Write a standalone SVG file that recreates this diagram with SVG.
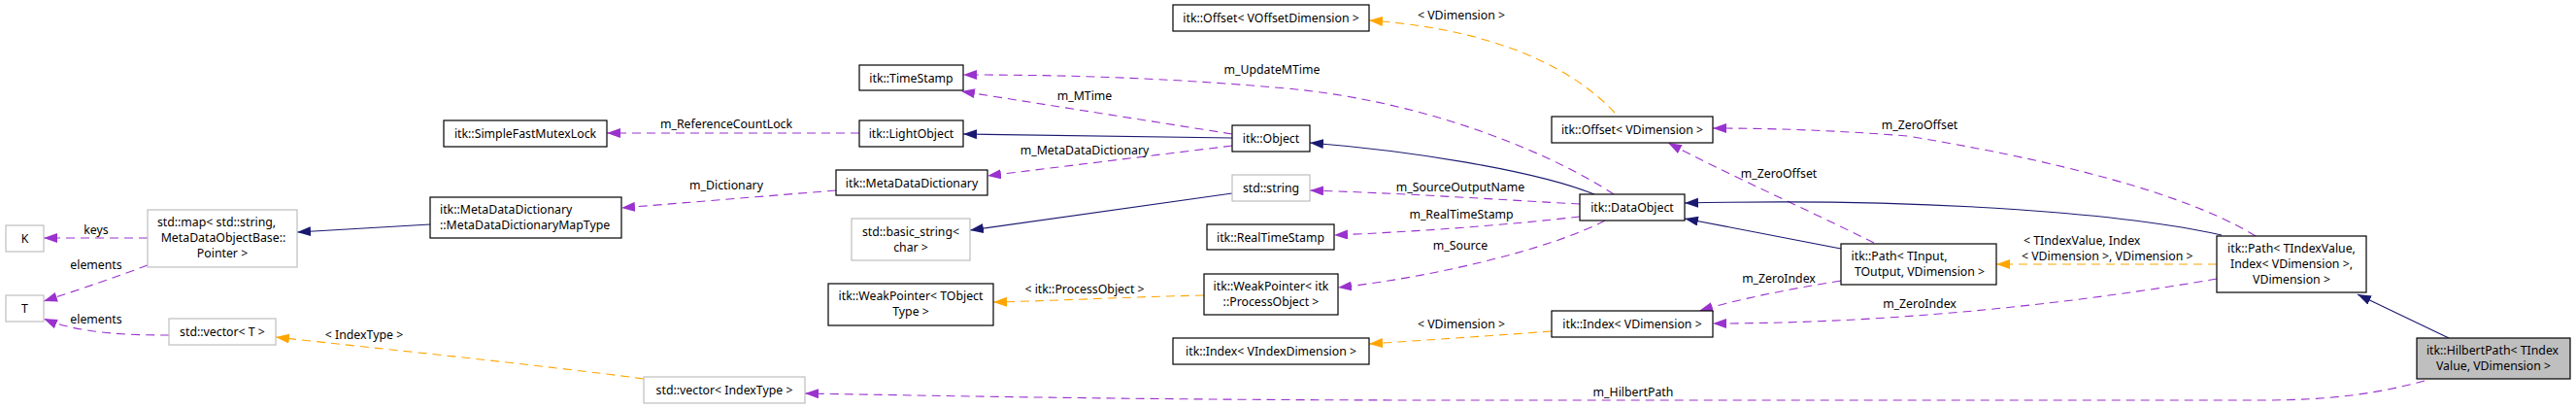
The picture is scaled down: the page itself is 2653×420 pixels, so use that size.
<svg xmlns="http://www.w3.org/2000/svg" width="2653" height="420" viewBox="0 0 2653 420">
<style>
text{font-family:"Noto Sans","Open Sans","DejaVu Sans",sans-serif;font-size:12.3px;fill:#000}
.m{text-anchor:middle}
.nb{fill:#fff;stroke:#000;stroke-width:1.2}
.ng{fill:#fff;stroke:#bfbfbf;stroke-width:1.2}
.nh{fill:#bfbfbf;stroke:#000;stroke-width:1.2}
.ep{fill:none;stroke:#9a32cd;stroke-width:1.1;stroke-dasharray:9,6}
.eo{fill:none;stroke:#ffa500;stroke-width:1.1;stroke-dasharray:9,6}
.en{fill:none;stroke:#191970;stroke-width:1.1}
.ep{marker-end:url(#ap)}.eo{marker-end:url(#ao)}.en{marker-end:url(#an)}
</style>
<defs>
<marker id="ap" viewBox="0 0 14 10" refX="14" refY="5" markerWidth="14" markerHeight="10" markerUnits="userSpaceOnUse" orient="auto"><path d="M0,0 L14,5 L0,10 z" fill="#9a32cd"/></marker>
<marker id="ao" viewBox="0 0 14 10" refX="14" refY="5" markerWidth="14" markerHeight="10" markerUnits="userSpaceOnUse" orient="auto"><path d="M0,0 L14,5 L0,10 z" fill="#ffa500"/></marker>
<marker id="an" viewBox="0 0 14 10" refX="14" refY="5" markerWidth="14" markerHeight="10" markerUnits="userSpaceOnUse" orient="auto"><path d="M0,0 L14,5 L0,10 z" fill="#191970"/></marker>
</defs>
<rect width="2653" height="420" fill="#fff"/>
<g id="connectors">
<path class="ep" d="M152,245 L45,245"/><text class="m" x="99" y="241">keys</text>
<path class="ep" d="M152,273 C120,285 85,297 45,310"/><text class="m" x="99" y="277">elements</text>
<path class="ep" d="M174,345 C130,345 80,343 45,328"/><text class="m" x="99" y="333">elements</text>
<path class="ep" d="M885,137 L625,137"/><text class="m" x="748" y="132">m_ReferenceCountLock</text>
<path class="ep" d="M861,196 L640,214"/><text class="m" x="748" y="195">m_Dictionary</text>
<path class="ep" d="M1269,138 L990,94"/><text class="m" x="1117" y="103">m_MTime</text>
<path class="ep" d="M1269,150 L1017,181"/><text class="m" x="1117" y="159">m_MetaDataDictionary</text>
<path class="ep" d="M1662,200 C1610,165 1480,105 1325,91 C1200,80 1100,77 992,77"/><text class="m" x="1310" y="76">m_UpdateMTime</text>
<path class="ep" d="M1627,210 C1550,206 1450,199 1349,196"/><text class="m" x="1504" y="197">m_SourceOutputName</text>
<path class="ep" d="M1627,223 C1550,232 1450,239 1374,242"/><text class="m" x="1505" y="225">m_RealTimeStamp</text>
<path class="ep" d="M1653,227 C1600,255 1480,285 1378,296"/><text class="m" x="1504" y="257">m_Source</text>
<path class="ep" d="M1930,250 C1860,215 1780,180 1718,147"/><text class="m" x="1832" y="183">m_ZeroOffset</text>
<path class="ep" d="M2323,243 C2270,210 2160,172 1964,140 C1890,134 1820,132 1764,132"/><text class="m" x="1977" y="133">m_ZeroOffset</text>
<path class="ep" d="M1896,289 C1840,298 1790,308 1750,320"/><text class="m" x="1832" y="291">m_ZeroIndex</text>
<path class="ep" d="M2283,287 C2150,310 1960,333 1764,333"/><text class="m" x="1977" y="317">m_ZeroIndex</text>
<path class="ep" d="M2497,392 C2450,405 2400,412 2330,412 L1500,412 C1200,412 1000,408 829,405"/><text class="m" x="1682" y="408">m_HilbertPath</text>
<path class="eo" d="M663,390 C550,375 400,360 284,347"/><text class="m" x="375" y="349">&lt; IndexType &gt;</text>
<path class="eo" d="M1240,304 C1150,306 1080,310 1023,311"/><text class="m" x="1117" y="302">&lt; itk::ProcessObject &gt;</text>
<path class="eo" d="M1598,341 C1530,346 1470,350 1410,354"/><text class="m" x="1505" y="338">&lt; VDimension &gt;</text>
<path class="eo" d="M1663,116 C1620,70 1540,30 1410,21"/><text class="m" x="1505" y="20">&lt; VDimension &gt;</text>
<path class="eo" d="M2283,272 L2056,272"/><text x="2084" y="252">&lt; TIndexValue, Index</text><text x="2082" y="268">&lt; VDimension &gt;, VDimension &gt;</text>
<path class="en" d="M443,231 L306,239"/>
<path class="en" d="M1269,142 L992,138"/>
<path class="en" d="M1269,199 L999,237"/>
<path class="en" d="M1642,200 C1580,175 1450,155 1349,147"/>
<path class="en" d="M1896,256 L1735,225"/>
<path class="en" d="M2288,242 C2200,222 2000,203 1735,209"/>
<path class="en" d="M2522,348 L2428,303"/>
</g>
<g id="n_K"><rect class="ng" x="6" y="232" width="39" height="27"/><text class="m" x="25.5" y="250">K</text></g>
<g id="n_T"><rect class="ng" x="6" y="304" width="39" height="27"/><text class="m" x="25.5" y="322">T</text></g>
<g id="n_stdmap"><rect class="ng" x="152" y="216" width="154" height="59"/><text class="m" x="223" y="233">std::map&lt; std::string,</text><text class="m" x="230" y="249">MetaDataObjectBase::</text><text class="m" x="229" y="265">Pointer &gt;</text></g>
<g id="n_mutex"><rect class="nb" x="457" y="124" width="168" height="27"/><text class="m" x="541" y="142">itk::SimpleFastMutexLock</text></g>
<g id="n_maptype"><rect class="nb" x="443" y="203" width="197" height="42"/><text x="453" y="220">itk::MetaDataDictionary</text><text x="453" y="236">::MetaDataDictionaryMapType</text></g>
<g id="n_vectorT"><rect class="ng" x="174" y="328" width="110" height="27"/><text class="m" x="229" y="346">std::vector&lt; T &gt;</text></g>
<g id="n_vectorIdx"><rect class="ng" x="663" y="388" width="166" height="27"/><text class="m" x="746" y="406">std::vector&lt; IndexType &gt;</text></g>
<g id="n_timestamp"><rect class="nb" x="885" y="67" width="107" height="26"/><text class="m" x="938.5" y="85">itk::TimeStamp</text></g>
<g id="n_lightobject"><rect class="nb" x="885" y="124" width="107" height="27"/><text class="m" x="938.5" y="142">itk::LightObject</text></g>
<g id="n_mdd"><rect class="nb" x="861" y="175" width="156" height="26"/><text class="m" x="939" y="193">itk::MetaDataDictionary</text></g>
<g id="n_basicstring"><rect class="ng" x="877" y="225" width="122" height="43"/><text class="m" x="938" y="243">std::basic_string&lt;</text><text class="m" x="938" y="259">char &gt;</text></g>
<g id="n_weakT"><rect class="nb" x="853" y="292" width="170" height="43"/><text class="m" x="938" y="309">itk::WeakPointer&lt; TObject</text><text class="m" x="938" y="325">Type &gt;</text></g>
<g id="n_offsetV"><rect class="nb" x="1208" y="5" width="202" height="27"/><text class="m" x="1309" y="23">itk::Offset&lt; VOffsetDimension &gt;</text></g>
<g id="n_object"><rect class="nb" x="1269" y="129" width="80" height="27"/><text class="m" x="1309" y="147">itk::Object</text></g>
<g id="n_string"><rect class="ng" x="1269" y="180" width="80" height="27"/><text class="m" x="1309" y="198">std::string</text></g>
<g id="n_realtime"><rect class="nb" x="1243" y="231" width="131" height="26"/><text class="m" x="1308.5" y="249">itk::RealTimeStamp</text></g>
<g id="n_weakPO"><rect class="nb" x="1240" y="282" width="138" height="42"/><text class="m" x="1309" y="299">itk::WeakPointer&lt; itk</text><text class="m" x="1309" y="315">::ProcessObject &gt;</text></g>
<g id="n_indexV"><rect class="nb" x="1208" y="348" width="202" height="27"/><text class="m" x="1309" y="366">itk::Index&lt; VIndexDimension &gt;</text></g>
<g id="n_offset"><rect class="nb" x="1598" y="120" width="166" height="27"/><text class="m" x="1681" y="138">itk::Offset&lt; VDimension &gt;</text></g>
<g id="n_dataobject"><rect class="nb" x="1627" y="200" width="108" height="27"/><text class="m" x="1681" y="218">itk::DataObject</text></g>
<g id="n_index"><rect class="nb" x="1598" y="320" width="166" height="27"/><text class="m" x="1681" y="338">itk::Index&lt; VDimension &gt;</text></g>
<g id="n_pathT"><rect class="nb" x="1896" y="251" width="160" height="42"/><text class="m" x="1956" y="268">itk::Path&lt; TInput,</text><text class="m" x="1977" y="284">TOutput, VDimension &gt;</text></g>
<g id="n_pathIdx"><rect class="nb" x="2283" y="243" width="154" height="58"/><text class="m" x="2360" y="260">itk::Path&lt; TIndexValue,</text><text class="m" x="2360" y="276">Index&lt; VDimension &gt;,</text><text class="m" x="2360" y="292">VDimension &gt;</text></g>
<g id="n_hilbert"><rect class="nh" x="2489" y="348" width="158" height="42"/><text class="m" x="2567" y="365">itk::HilbertPath&lt; TIndex</text><text class="m" x="2568" y="381">Value, VDimension &gt;</text></g>
</svg>
